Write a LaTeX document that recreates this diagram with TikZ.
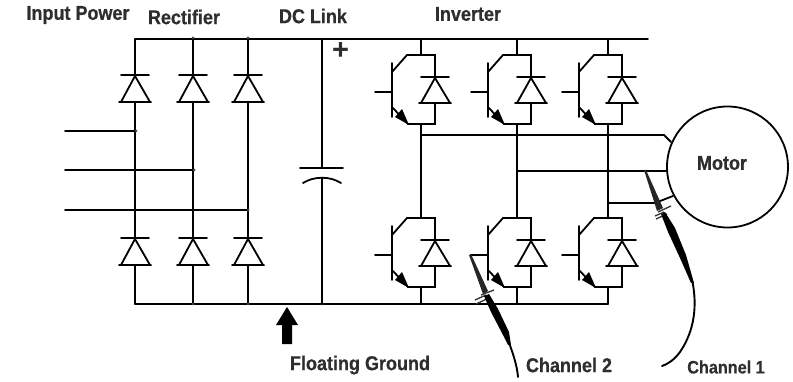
\documentclass[tikz,border=0pt]{standalone}
\usepackage{fontspec}
\setmainfont{Liberation Sans}[BoldFont={Liberation Sans Bold}]
\newfontfamily\labfont{Liberation Sans Bold}[FakeStretch=0.9,FakeBold=0.5]
\usetikzlibrary{arrows.meta}
\definecolor{labcol}{HTML}{2E2E2E}
\definecolor{jdot}{HTML}{1F5A2A}
\tikzset{
  wire/.style={line width=1.8pt,black,line cap=round,line join=miter},
  lab/.style={font=\labfont\fontsize{20}{20}\selectfont,text=labcol,inner sep=0pt},
  smalllab/.style={font=\labfont\fontsize{18}{18}\selectfont,text=labcol,inner sep=0pt},
  probe/.style={line width=1.9pt,black,line cap=round},
  clipm/.style={line width=1.3pt,black!80},
  jn/.style={fill=jdot,draw=none},
  pics/dio/.style={code={
    \coordinate (-k) at (0,0);
    \coordinate (-a) at (0,27);
    \draw[wire] (-14,0)--(14,0);
    \draw[wire] (0,1)--(-14,27)--(15,27)--cycle;
    \draw[wire] (-16,27)--(16,27);
  }},
  pics/igbt/.style={code={
    \coordinate (-c) at (0,0);
    \coordinate (-e) at (0,69);
    \coordinate (-g) at (-46,37);
    \draw[wire] (-29,8)--(-29,62);
    \draw[wire] (-46,37)--(-29,37);
    \draw[wire] (-29,17)--(-14,0)--(14,0)--(14,22);
    \draw[wire] (14,48)--(14,69)--(-13,69)--(-29,52);
    \fill (-12,70)--(-26,62)--(-19,54)--cycle;
    \draw[wire] (0,22)--(28,22);
    \draw[wire] (14,23)--(0,48)--(29,48)--cycle;
    \draw[wire] (-2,48)--(30,48);
  }}
}
\begin{document}
\begin{tikzpicture}[x=1pt,y=-1pt]
\useasboundingbox (0,0) rectangle (793,382);
% named points
\coordinate (TL) at (135,39);
\coordinate (TR) at (648,39);
\coordinate (BL) at (135,304);
\coordinate (BR) at (608,304);
\coordinate (I1) at (65,131);
\coordinate (I2) at (65,170);
\coordinate (I3) at (65,210);
\coordinate (J1) at (135,131);
\coordinate (J2) at (193,170);
\coordinate (J3) at (248,210);
% rectifier
\pic (d1) at (135,75) {dio};
\pic (d2) at (193,75) {dio};
\pic (d3) at (248,75) {dio};
\pic (d4) at (135,238) {dio};
\pic (d5) at (193,238) {dio};
\pic (d6) at (248,238) {dio};
\foreach \n/\m/\x in {1/4/135,2/5/193,3/6/248}{
  \draw[wire] (\x,39)--(d\n-k);
  \draw[wire] (d\n-a)--(d\m-k);
  \draw[wire] (d\m-a)--(\x,304);
}
% rails
\draw[wire] (TL)--(TR);
\draw[wire] (BL)--(BR);
\draw[wire] (I1)--(J1);
\draw[wire] (I2)--(J2);
\draw[wire] (I3)--(J3);
% junction specks
\foreach \p in {(193,38),(248,38),(136,131),(194,170),(248,210),(322,304),(193,304),(248,304)}{
  \fill[jn] \p circle (1.5);
}
% capacitor
\coordinate (C1) at (322,168);
\coordinate (C2) at (322,178);
\draw[wire] (322,39)--(C1);
\draw[wire] (300,168)--(343,168);
\draw[wire] (303,183) .. controls (314,176) and (330,176) .. (341,183);
\draw[wire] (C2)--(322,304);
\node[inner sep=0pt,text=labcol,font=\bfseries\fontsize{29}{29}\selectfont] (plus) at (340.5,51) {+};
% inverter
\pic (q1) at (421,55) {igbt};
\pic (q2) at (517,55) {igbt};
\pic (q3) at (608,55) {igbt};
\pic (q4) at (421,218) {igbt};
\pic (q5) at (517,218) {igbt};
\pic (q6) at (608,218) {igbt};
\foreach \n/\m/\x in {1/4/421,2/5/517,3/6/608}{
  \draw[wire] (\x,39)--(q\n-c);
  \draw[wire] (q\n-e)--(q\m-c);
  \draw[wire] (q\m-e)--(\x,304);
}
% motor
\node[draw,circle,line width=1.8pt,minimum size=121pt,inner sep=0pt] (motor) at (727.5,167) {};
\node[lab] (motorlab) at (722,163) {Motor};
\draw[wire] (421,135)--(664,135)--(671,142);
\draw[wire] (517,171)--(motor.west|-517,171);
\draw[wire] (608,203)--(655,203)--(673,196);
% probe 1
\coordinate (p1a) at (644,170);
\coordinate (p1c) at (692.5,282);
\coordinate (p1d) at (662,366);
\fill[black!85] (p1a)--(646,170)--(663,208)--(657,211)--cycle;
\draw[clipm] (658,212)--(671,206);
\draw[clipm] (656,219)--(667,214);
\draw[clipm] (655,216)--(664,212);
\fill (661,214)--(665,212)--(675,228)--(686,255)--(694,283)--(691,283)--(680,258)--(668,232)--cycle;
\draw[probe] (p1c) .. controls (697,305) and (695,330) .. (680,352) .. controls (674,360) and (668,364) .. (p1d);
% probe 2
\coordinate (p2a) at (469,255);
\coordinate (p2c) at (509.5,344);
\coordinate (p2d) at (518,377);
\fill[black!85] (p2a)--(471,254)--(488,291)--(483,294)--cycle;
\draw[clipm] (481,295)--(494,290);
\draw[clipm] (476,304)--(489,298);
\draw[clipm] (475,300)--(486,295);
\fill (484,296)--(489,294)--(498,309)--(509,332)--(511,345)--(508,345)--(503,335)--(491,312)--cycle;
\draw[probe] (p2c) .. controls (513,354) and (517,365) .. (p2d);
% ground arrow
\fill (282,344)--(292,344)--(292,325)--(298,325)--(287,307)--(276,325)--(282,325)--cycle;
% labels
\node[lab] (l1) at (78,15) {Input Power};
\node[lab] (l2) at (184,17) {Rectifier};
\node[lab] (l3) at (313,16) {DC Link};
\node[lab] (l4) at (468,14) {Inverter};
\node[lab] (l5) at (360,365) {Floating Ground};
\node[lab] (l6) at (569,365) {Channel 2};
\node[smalllab] (l7) at (726,367) {Channel 1};
\end{tikzpicture}
\end{document}
